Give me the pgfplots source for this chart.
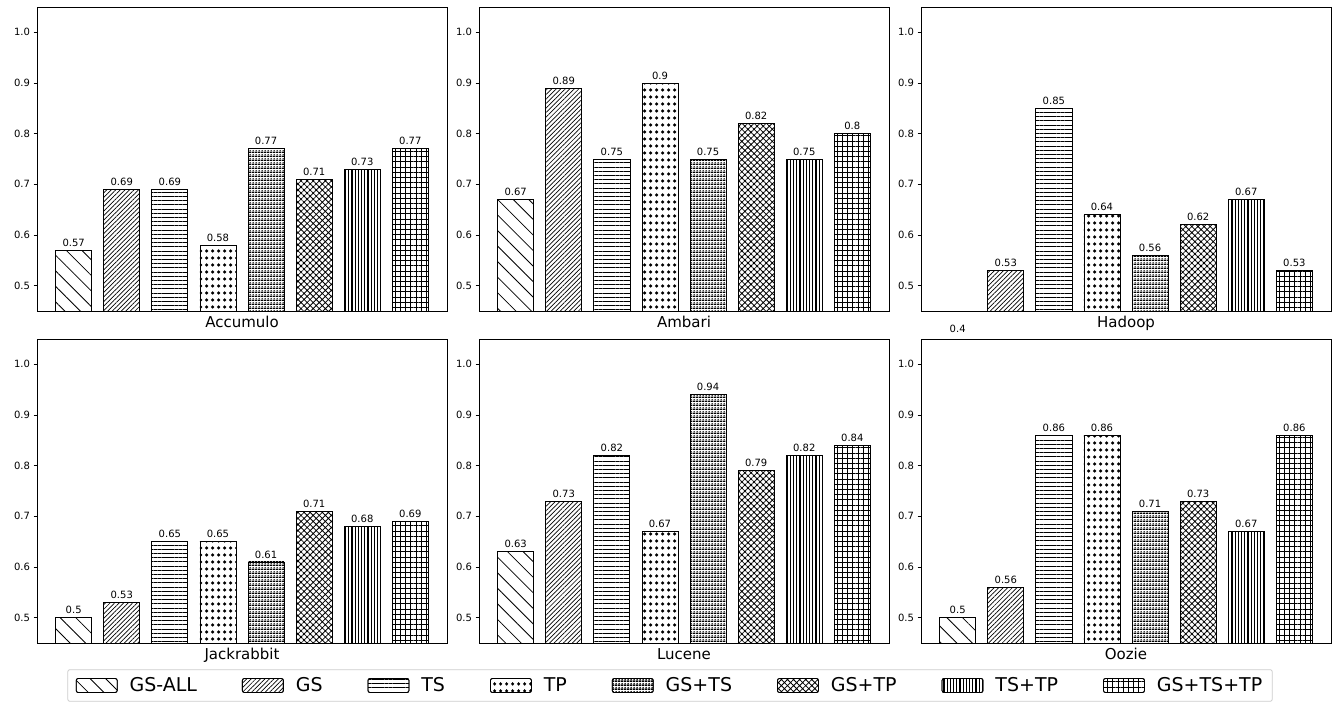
\documentclass[border=0pt]{standalone}
\usepackage{pgfplots}
\pgfplotsset{compat=1.18}
\usepackage{fontspec}
\setmainfont{DejaVu Sans}
\usetikzlibrary{patterns,patterns.meta}

\tikzdeclarepattern{
  name=FDots, type=uncolored,
  bottom left={(0pt,0pt)}, top right={(6pt,6.5pt)},
  tile size={(6pt,6.5pt)},
  code={\fill (3pt,3.25pt) circle (1.9pt);}
}
\tikzdeclarepattern{
  name=LineDots, type=uncolored,
  bottom left={(0pt,0pt)}, top right={(3pt,4pt)},
  tile size={(3pt,4pt)},
  code={\fill (0pt,0pt) rectangle (3pt,1.8pt); \fill (1.5pt,2.9pt) circle (0.9pt);}
}

\tikzset{
  pbase/.style={draw=black, line width=0.8pt, fill=white},
  pGSALL/.style={pbase, postaction={pattern={Lines[angle=-45,distance=11pt,line width=0.8pt]}}},
  pGS/.style={pbase, postaction={pattern={Lines[angle=45,distance=3.2pt,line width=0.7pt]}}},
  pTS/.style={pbase, postaction={pattern={Lines[angle=0,distance=4.2pt,line width=0.9pt]}}},
  pTP/.style={pbase, postaction={pattern=FDots}},
  pGSTS/.style={pbase, postaction={pattern=LineDots}},
  pGSTP/.style={pbase, postaction={pattern={Hatch[angle=45,distance=4.3pt,line width=0.8pt]}}},
  pTSTP/.style={pbase, postaction={pattern={Lines[angle=90,distance=3.2pt,line width=1.2pt]}}},
  pGSTSTP/.style={pbase, postaction={pattern={Hatch[angle=0,distance=5.2pt,line width=0.8pt]}}},
}

\pgfplotsset{
  panel/.style={
    scale only axis, width=410pt, height=304pt,
    xmin=-0.7625, xmax=7.7625, ymin=0.45, ymax=1.05,
    ybar, bar width=0.75, bar shift=0pt,
    xtick=\empty,
    ytick={0.5,0.6,0.7,0.8,0.9,1.0},
    yticklabels={0.5,0.6,0.7,0.8,0.9,1.0},
    tick align=outside, ytick pos=left, major tick length=3.5pt,
    tick label style={font=\fontsize{10}{12}\selectfont},
    axis line style={line width=0.8pt},
    major tick style={line width=0.8pt, black},
    /pgf/number format/assume math mode=true,
    nodes near coords={\pgfmathprintnumber[fixed,precision=2]{\pgfplotspointmeta}},
    nodes near coords style={font=\fontsize{10}{12}\selectfont, black},
    xlabel style={at={(rel axis cs:0.5,0)}, anchor=base, yshift=-16.5pt, font=\fontsize{15}{18}\selectfont},
    legend image code/.code={\draw[##1] (0pt,-7pt) rectangle (41pt,7pt);},
  }
}

\newcommand\barsrest[7]{%
  \addplot[pGS] coordinates {(1,#1)};
  \addplot[pTS] coordinates {(2,#2)};
  \addplot[pTP] coordinates {(3,#3)};
  \addplot[pGSTS] coordinates {(4,#4)};
  \addplot[pGSTP] coordinates {(5,#5)};
  \addplot[pTSTP] coordinates {(6,#6)};
  \addplot[pGSTSTP] coordinates {(7,#7)};
}
\newcommand\bars[8]{%
  \addplot[pGSALL] coordinates {(0,#1)};
  \barsrest{#2}{#3}{#4}{#5}{#6}{#7}{#8}
}

\begin{document}
\begin{tikzpicture}
\begin{axis}[panel, at={(37pt,402pt)}, anchor=south west, xlabel={Accumulo}]
\bars{0.57}{0.69}{0.69}{0.58}{0.77}{0.71}{0.73}{0.77}
\end{axis}
\begin{axis}[panel, at={(479pt,402pt)}, anchor=south west, xlabel={Ambari}]
\bars{0.67}{0.89}{0.75}{0.9}{0.75}{0.82}{0.75}{0.8}
\end{axis}
\begin{axis}[panel, at={(921pt,402pt)}, anchor=south west, xlabel={Hadoop}, clip mode=individual]
\addplot[draw=none, fill=none, nodes near coords=\empty] coordinates {(0,0.4)};
\barsrest{0.53}{0.85}{0.64}{0.56}{0.62}{0.67}{0.53}
\node[anchor=south, font=\fontsize{10}{12}\selectfont] at (axis cs:0,0.4) {0.4};
\end{axis}
\begin{axis}[panel, at={(37pt,70pt)}, anchor=south west, xlabel={Jackrabbit}]
\bars{0.5}{0.53}{0.65}{0.65}{0.61}{0.71}{0.68}{0.69}
\end{axis}
\begin{axis}[panel, at={(479pt,70pt)}, anchor=south west, xlabel={Lucene},
  legend columns=8,
  legend style={at={(0.4659,-0.1398)}, anchor=center, draw=black!20, line width=0.8pt,
    rounded corners=2pt, font=\fontsize{19}{23}\selectfont, inner xsep=8pt, inner ysep=6pt,
    /tikz/every odd column/.append style={column sep=10pt},
    /tikz/every even column/.append style={column sep=43pt}},
  ]
\bars{0.63}{0.73}{0.82}{0.67}{0.94}{0.79}{0.82}{0.84}
\legend{GS-ALL,GS,TS,TP,GS+TS,GS+TP,TS+TP,GS+TS+TP}
\end{axis}
\begin{axis}[panel, at={(921pt,70pt)}, anchor=south west, xlabel={Oozie}]
\bars{0.5}{0.56}{0.86}{0.86}{0.71}{0.73}{0.67}{0.86}
\end{axis}
\pgfresetboundingbox
\path (0pt,0pt) rectangle (1339pt,713pt);
\end{tikzpicture}
\end{document}
